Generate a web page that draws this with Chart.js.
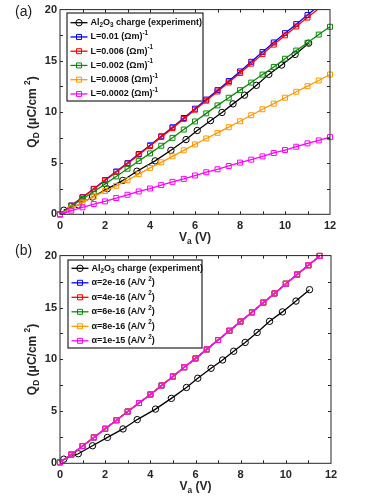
<!DOCTYPE html>
<html>
<head>
<meta charset="utf-8">
<script src="https://cdn.jsdelivr.net/npm/chart.js@4.4.1/dist/chart.umd.min.js"></script>
<style>
  body { margin:0; background:#fff; width:374px; height:498px; overflow:hidden; position:relative; font-family:"Liberation Sans", Arial, sans-serif; }
  .panel { position:absolute; left:0; width:374px; }
  .tag { position:absolute; left:15px; font-size:14px; line-height:14px; color:#1a1a1a; }
</style>
</head>
<body>
<div class="panel" style="top:0;height:246px"><canvas id="chartA"></canvas></div>
<div class="panel" style="top:246px;height:252px"><canvas id="chartB"></canvas></div>
<div class="tag" style="top:4px">(a)</div>
<div class="tag" style="top:243px">(b)</div>
<script>
// measured charge, both panels
const vExp = [0.17, 0.81, 1.44, 2.10, 2.79, 3.42, 4.23, 4.93, 5.60, 6.10, 6.69, 7.20, 7.69, 8.20, 8.73, 9.28, 9.85, 10.45, 11.05];
const qExp = [0.40, 0.92, 1.69, 2.49, 3.31, 4.21, 5.22, 6.25, 7.30, 8.19, 9.15, 9.95, 10.79, 11.64, 12.60, 13.67, 14.58, 15.62, 16.72];

// simulated, panel (a)
const vSim = [0, 0.5, 1, 1.5, 2, 2.5, 3, 3.5, 4, 4.5, 5, 5.5, 6, 6.5, 7, 7.5, 8, 8.5, 9, 9.5, 10, 10.5, 11, 11.5, 12];
const qL0p01   = [0, 0.86, 1.67, 2.49, 3.34, 4.18, 5.00, 5.89, 6.74, 7.62, 8.50, 9.41, 10.32, 11.21, 12.13, 13.02, 13.96, 14.90, 15.85, 16.79, 17.70, 18.58, 19.47, 20.40, 21.35];
const qL0p006  = [0, 0.84, 1.65, 2.46, 3.30, 4.14, 4.95, 5.83, 6.67, 7.54, 8.42, 9.32, 10.22, 11.10, 12.00, 12.88, 13.80, 14.72, 15.65, 16.58, 17.48, 18.35, 19.22, 20.10, 21.00];
const qL0p002  = [0, 0.80, 1.50, 2.20, 2.95, 3.70, 4.45, 5.20, 5.95, 6.70, 7.47, 8.28, 9.07, 9.86, 10.64, 11.39, 12.13, 12.87, 13.65, 14.40, 15.20, 16.00, 16.76, 17.56, 18.32];
const qL0p0008 = [0, 0.58, 1.17, 1.72, 2.27, 2.78, 3.33, 3.92, 4.53, 5.08, 5.66, 6.25, 6.83, 7.41, 7.96, 8.51, 9.09, 9.68, 10.26, 10.81, 11.39, 11.97, 12.52, 13.07, 13.66];
const qL0p0002 = [0, 0.36, 0.68, 1.00, 1.26, 1.59, 1.91, 2.23, 2.52, 2.85, 3.17, 3.46, 3.79, 4.11, 4.40, 4.72, 5.05, 5.34, 5.66, 5.99, 6.28, 6.60, 6.93, 7.22, 7.54];

// simulated, panel (b) - all five alpha curves lie on top of each other
const vAlpha = [0, 0.5, 1, 1.5, 2, 2.5, 3, 3.5, 4, 4.5, 5, 5.5, 6, 6.5, 7, 7.5, 8, 8.5, 9, 9.5, 10, 10.5, 11, 11.5];
const qAlpha = [0.10, 0.85, 1.66, 2.49, 3.32, 4.15, 4.98, 5.80, 6.63, 7.50, 8.36, 9.25, 10.10, 10.97, 11.87, 12.76, 13.65, 14.54, 15.47, 16.36, 17.29, 18.18, 19.07, 19.97];

// legend labels: [text, 0 normal / -1 sub / 1 sup]
const expLabel = [["Al",0],["2",-1],["O",0],["3",-1],[" charge (experiment)",0]];
const labelsA = [
  [["L=0.01 (\u03A9m)",0],["-1",1]],
  [["L=0.006 (\u03A9m)",0],["-1",1]],
  [["L=0.002 (\u03A9m)",0],["-1",1]],
  [["L=0.0008 (\u03A9m)",0],["-1",1]],
  [["L=0.0002 (\u03A9m)",0],["-1",1]]
];
const labelsB = [
  [["\u03B1=2e-16 (A/V ",0],["2",1],[")",0]],
  [["\u03B1=4e-16 (A/V ",0],["2",1],[")",0]],
  [["\u03B1=6e-16 (A/V ",0],["2",1],[")",0]],
  [["\u03B1=8e-16 (A/V ",0],["2",1],[")",0]],
  [["\u03B1=1e-15 (A/V ",0],["2",1],[")",0]]
];
const colors = ["#0000ff", "#ff0000", "#0a8a0a", "#ff9900", "#ff00ff"];
const xTitle = [["V",0],["a",-1],[" (V)",0]];
const yTitle = [["Q",0],["D",-1],[" (\u03BCC/cm ",0],["2",1],[")",0]];

const INK = "#262626";
const FONT = '"Liberation Sans", Arial, sans-serif';

function pts(xs, ys) {
  return xs.map((x, i) => ({x: x, y: ys[i]}));
}

function richWidth(ctx, parts, size) {
  let w = 0;
  parts.forEach(p => {
    ctx.font = "bold " + (p[1] ? size * 0.7 : size) + "px " + FONT;
    w += ctx.measureText(p[0]).width;
  });
  return w;
}

function richText(ctx, x, y, parts, size, center) {
  if (center) x -= richWidth(ctx, parts, size) / 2;
  ctx.textBaseline = "middle";
  ctx.textAlign = "left";
  parts.forEach(p => {
    let s = p[1] ? size * 0.7 : size;
    ctx.font = "bold " + s + "px " + FONT;
    let dy = p[1] == -1 ? size * 0.32 : (p[1] == 1 ? -size * 0.42 : 0);
    ctx.fillText(p[0], x, y + dy);
    x += ctx.measureText(p[0]).width;
  });
}

function marker(ctx, style, x, y, color) {
  ctx.strokeStyle = color;
  ctx.lineWidth = 1;
  ctx.beginPath();
  if (style == "circle") ctx.arc(x, y, 3.2, 0, Math.PI * 2);
  else ctx.rect(x - 2.5, y - 2.5, 5, 5);
  ctx.stroke();
}

function framePlugin(cfg) {
  return {
    id: "frame",
    afterDraw(chart) {
      const ctx = chart.ctx;
      const a = chart.chartArea;
      const xs = chart.scales.x, ys = chart.scales.y;
      ctx.save();
      // inward ticks on all four sides
      ctx.strokeStyle = INK;
      ctx.lineWidth = 1;
      ctx.beginPath();
      for (let v = 1; v < 12; v++) {
        let px = Math.round(xs.getPixelForValue(v)) + 0.5;
        ctx.moveTo(px, a.bottom); ctx.lineTo(px, a.bottom - 3);
        ctx.moveTo(px, a.top); ctx.lineTo(px, a.top + 3);
      }
      for (let v = 2.5; v < 20; v += 2.5) {
        let py = Math.round(ys.getPixelForValue(v)) + 0.5;
        ctx.moveTo(a.left, py); ctx.lineTo(a.left + 3, py);
        ctx.moveTo(a.right, py); ctx.lineTo(a.right - 3, py);
      }
      ctx.stroke();
      ctx.strokeRect(a.left, a.top, a.right - a.left, a.bottom - a.top);

      // axis titles
      ctx.fillStyle = INK;
      richText(ctx, (a.left + a.right) / 2, cfg.xTitleY, xTitle, 12, true);
      ctx.save();
      ctx.translate(33, (a.top + a.bottom) / 2);
      ctx.rotate(-Math.PI / 2);
      richText(ctx, 0, 0, yTitle, 12, true);
      ctx.restore();

      // legend
      const L = cfg.legend;
      ctx.fillStyle = "#fff";
      ctx.fillRect(L.x, L.y, L.w, L.h);
      ctx.strokeStyle = INK;
      ctx.lineWidth = 1.2;
      ctx.strokeRect(L.x, L.y, L.w, L.h);
      L.rows.forEach((r, i) => {
        let y = L.y + L.first + i * L.step;
        ctx.strokeStyle = r.color;
        ctx.lineWidth = 1.3;
        ctx.beginPath();
        ctx.moveTo(L.x + 3.5, y); ctx.lineTo(L.x + 20.5, y);
        ctx.stroke();
        marker(ctx, r.style, L.x + 12, y, r.color);
        ctx.fillStyle = "#111";
        richText(ctx, L.x + 23.5, y, r.label, 9, false);
      });
      ctx.restore();
    }
  };
}

function series(data, color, style, idx, clip) {
  return {
    data: data,
    showLine: true,
    borderColor: color,
    borderWidth: 1.3,
    pointStyle: style,
    pointRadius: c => (c.raw && c.raw.y > 20) ? 0 : (style == "circle" ? 3.2 : 3.5),
    pointBorderColor: color,
    pointBackgroundColor: "rgba(0,0,0,0)",
    pointBorderWidth: 1,
    pointHoverRadius: 0,
    clip: clip,
    order: -idx
  };
}

function makeChart(id, datasets, cfg) {
  return new Chart(document.getElementById(id), {
    type: "scatter",
    data: { datasets: datasets },
    options: {
      responsive: true,
      maintainAspectRatio: false,
      animation: false,
      layout: { padding: { left: 0, right: cfg.right, top: cfg.top, bottom: 0 } },
      plugins: { legend: { display: false }, tooltip: { enabled: false } },
      scales: {
        x: {
          type: "linear", min: 0, max: 12,
          grid: { display: false, drawTicks: false },
          border: { display: false },
          ticks: { stepSize: 2, padding: 5, color: INK, maxRotation: 0, font: { size: 11, weight: "bold", family: FONT } },
          afterFit: s => { s.height = cfg.xh; }
        },
        y: {
          min: 0, max: 20,
          grid: { display: false, drawTicks: false },
          border: { display: false },
          ticks: { stepSize: 5, padding: 3, color: INK, font: { size: 11, weight: "bold", family: FONT } },
          afterFit: s => { s.width = 60; }
        }
      }
    },
    plugins: [framePlugin(cfg)]
  });
}

// panel (a)
const simA = [qL0p01, qL0p006, qL0p002, qL0p0008, qL0p0002];
const clipA = { left: 6, right: 6, top: 0, bottom: 6 };
const setsA = [series(pts(vExp, qExp), "#000", "circle", 0, clipA)];
simA.forEach((q, i) => setsA.push(series(pts(vSim, q), colors[i], "rect", i + 1, clipA)));
const rowsA = [{ label: expLabel, color: "#000", style: "circle" }];
labelsA.forEach((l, i) => rowsA.push({ label: l, color: colors[i], style: "rect" }));
makeChart("chartA", setsA, {
  top: 8.3, right: 44, xh: 246 - 214.3, xTitleY: 238,
  legend: { x: 67, y: 13, w: 136, h: 88, first: 9.7, step: 14.25, rows: rowsA }
});

// panel (b)
const setsB = [series(pts(vExp, qExp), "#000", "circle", 0, 6)];
colors.forEach((c, i) => setsB.push(series(pts(vAlpha, qAlpha), c, "rect", i + 1, 6)));
const rowsB = [{ label: expLabel, color: "#000", style: "circle" }];
labelsB.forEach((l, i) => rowsB.push({ label: l, color: colors[i], style: "rect" }));
makeChart("chartB", setsB, {
  top: 8.3, right: 43, xh: 252 - 217.3, xTitleY: 487 - 246,
  legend: { x: 68, y: 14, w: 134, h: 88, first: 8.3, step: 14.5, rows: rowsB }
});
</script>
</body>
</html>
